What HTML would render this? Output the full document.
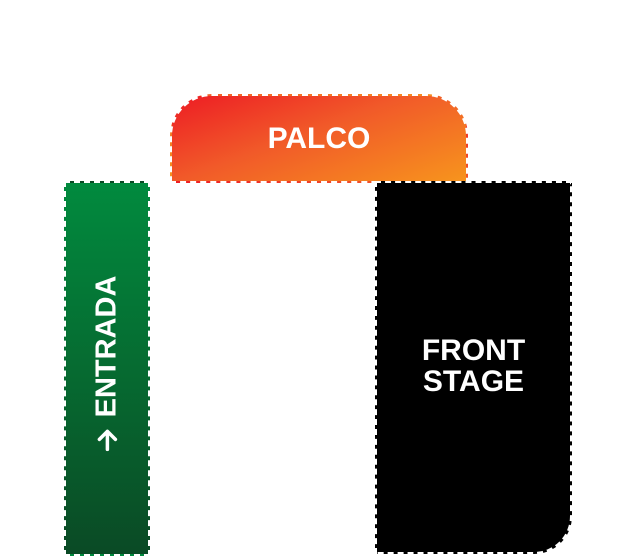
<!DOCTYPE html>
<html><head><style>
body{margin:0;width:626px;height:554px;background:#fff;position:relative;overflow:hidden;font-family:"Liberation Sans",Arial,sans-serif;}
.b{position:absolute;box-sizing:border-box;border:2px dashed #fff;color:#fff;font-weight:bold;display:flex;align-items:center;justify-content:center;}
#palco{left:170px;top:94px;width:298px;height:89px;border-radius:42px 42px 0 0;background:linear-gradient(160deg,#ed1c24 0%,#f15a29 45%,#f7941d 100%);font-size:30px;padding-top:0px;}
#ent{left:64px;top:181px;width:86px;height:375px;background:linear-gradient(180deg,#018a3e 0%,#066b31 50%,#0a4a25 100%);}
#ent span{transform:rotate(-90deg);white-space:nowrap;font-size:29px;display:flex;align-items:center;margin-top:-10px;}
#fs{left:375px;top:181px;width:197px;height:373px;background:#000;border-radius:0 0 38px 0;font-size:30px;text-align:center;line-height:31px;}
</style></head><body>
<div class="b" id="palco">PALCO</div>
<div class="b" id="ent"><span><svg width="24" height="22" viewBox="0 0 24 22" style="margin-right:10px"><path d="M2 11H20M12 3L20 11L12 19" stroke="#fff" stroke-width="3.5" fill="none" stroke-linecap="round" stroke-linejoin="round"/></svg>ENTRADA</span></div>
<div class="b" id="fs"><div style="margin-top:-3px">FRONT<br>STAGE</div></div>
</body></html>
